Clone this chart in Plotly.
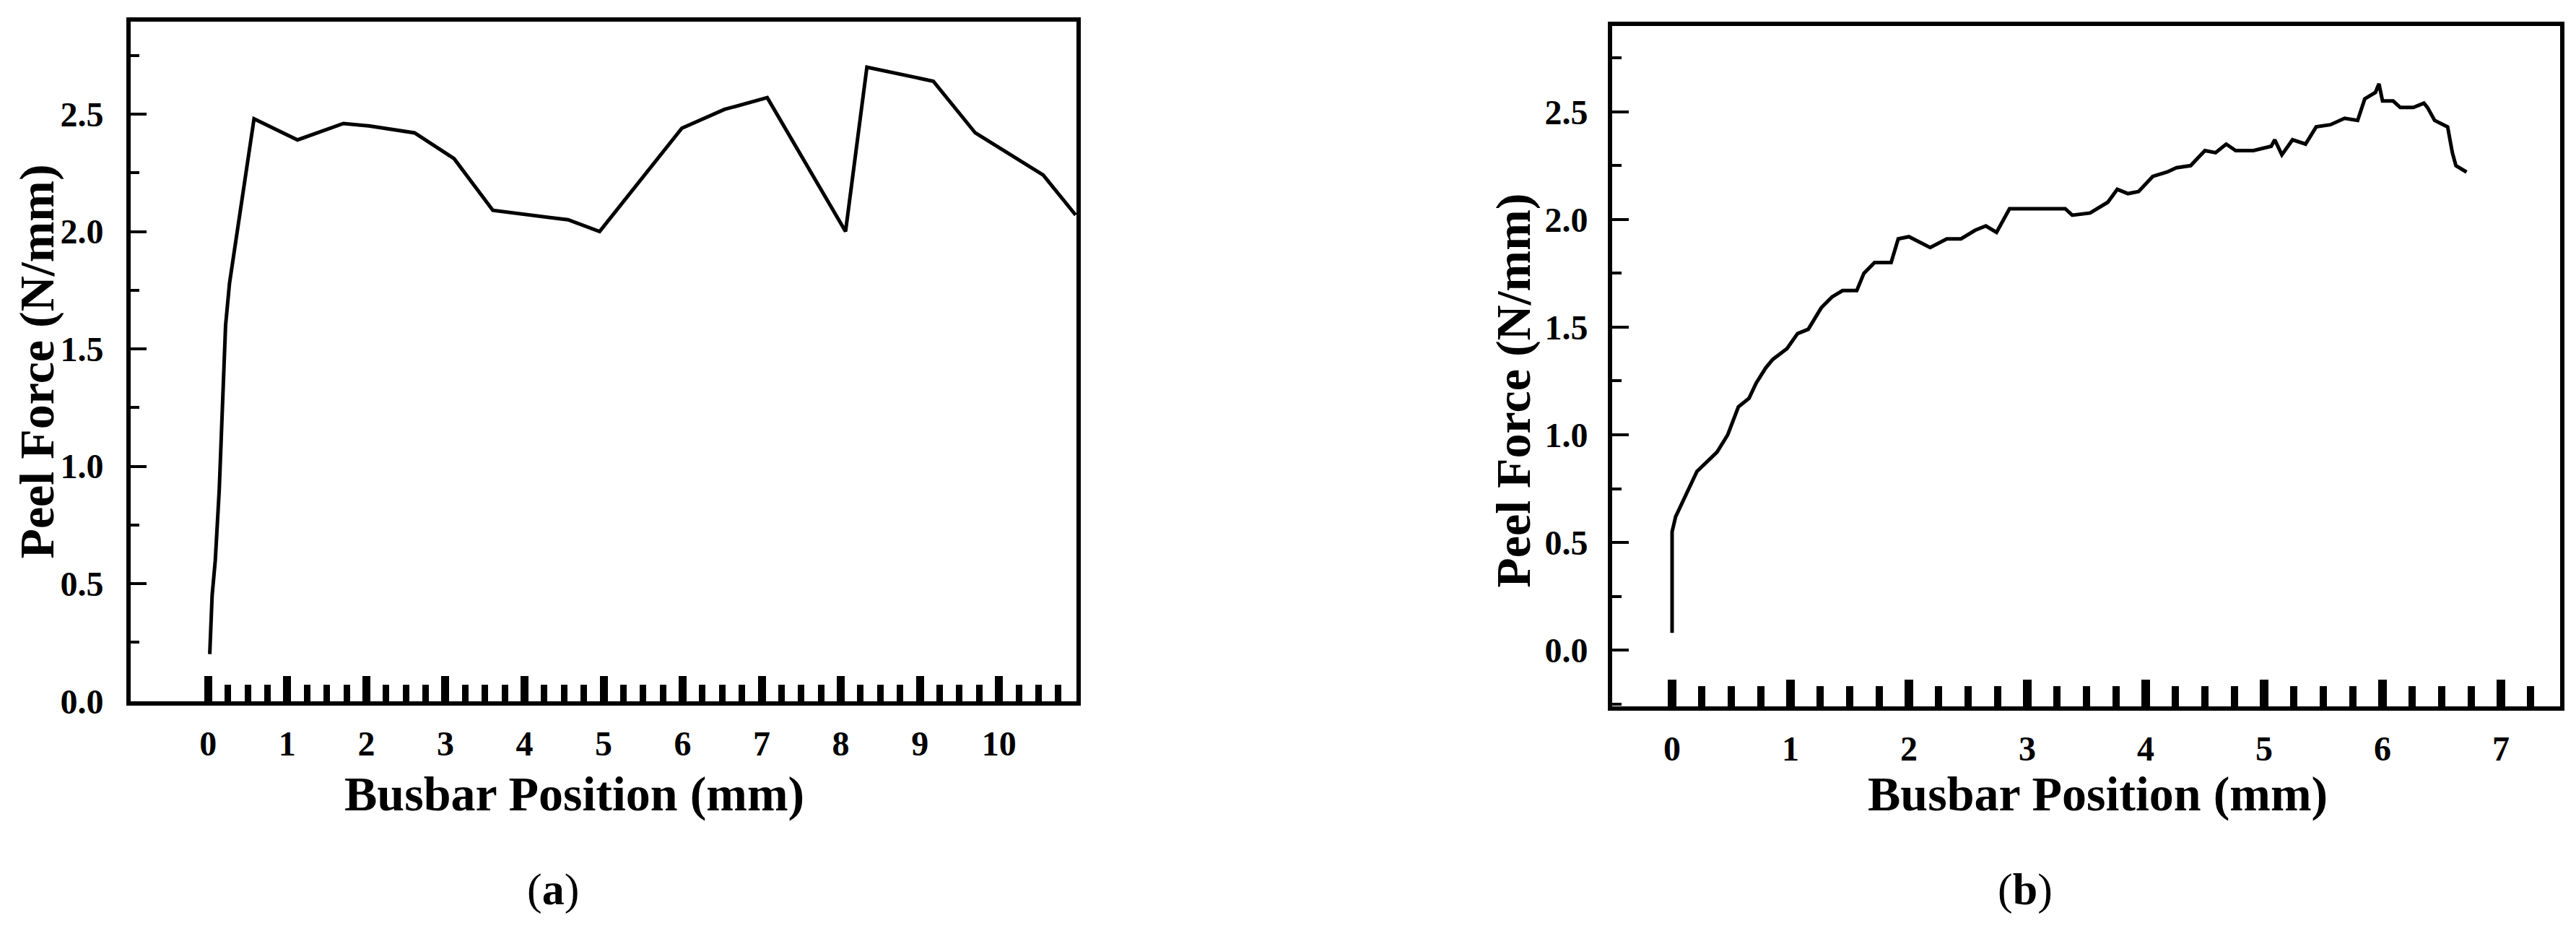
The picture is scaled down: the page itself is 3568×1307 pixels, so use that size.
import plotly.graph_objects as go
from plotly.subplots import make_subplots

# (a) peel force along the busbar
pos_a = [0.02, 0.03, 0.05, 0.09, 0.14, 0.18, 0.22, 0.27, 0.55, 0.58,
         1.13, 1.71, 2.03, 2.61, 3.11, 3.60, 4.55, 4.95, 5.99, 6.53,
         7.07, 8.06, 8.33, 9.17, 9.70, 10.56, 10.97]
force_a = [0.20, 0.27, 0.45, 0.60, 0.90, 1.25, 1.60, 1.78, 2.42, 2.48,
           2.39, 2.46, 2.45, 2.42, 2.31, 2.09, 2.05, 2.00, 2.44, 2.52,
           2.57, 2.00, 2.70, 2.64, 2.42, 2.24, 2.07]

# (b) peel force along the busbar
pos_b = [0.00, 0.00, 0.03, 0.21, 0.38, 0.47, 0.56, 0.65, 0.71, 0.79,
         0.85, 0.97, 1.06, 1.15, 1.26, 1.35, 1.44, 1.56, 1.62, 1.71,
         1.85, 1.91, 2.00, 2.18, 2.32, 2.44, 2.56, 2.65, 2.74, 2.85,
         3.00, 3.32, 3.38, 3.53, 3.68, 3.76, 3.85, 3.94, 4.06, 4.18,
         4.26, 4.38, 4.50, 4.59, 4.68, 4.76, 4.91, 5.06, 5.09, 5.15,
         5.24, 5.35, 5.44, 5.56, 5.68, 5.79, 5.85, 5.94, 5.97, 6.00,
         6.09, 6.15, 6.26, 6.35, 6.38, 6.44, 6.55, 6.59, 6.62, 6.71]
force_b = [0.08, 0.55, 0.62, 0.83, 0.92, 1.00, 1.13, 1.17, 1.24, 1.31,
           1.35, 1.40, 1.47, 1.49, 1.59, 1.64, 1.67, 1.67, 1.75, 1.80,
           1.80, 1.91, 1.92, 1.87, 1.91, 1.91, 1.95, 1.97, 1.94, 2.05,
           2.05, 2.05, 2.02, 2.03, 2.08, 2.14, 2.12, 2.13, 2.20, 2.22,
           2.24, 2.25, 2.32, 2.31, 2.35, 2.32, 2.32, 2.34, 2.37, 2.30,
           2.37, 2.35, 2.43, 2.44, 2.47, 2.46, 2.56, 2.59, 2.63, 2.55,
           2.55, 2.52, 2.52, 2.54, 2.52, 2.46, 2.43, 2.31, 2.25, 2.22]

x_ticks_a = list(range(0, 11))
x_ticks_b = list(range(0, 8))
y_ticks = [0.0, 0.5, 1.0, 1.5, 2.0, 2.5]

W, H = 3568, 1307
SERIF = "Liberation Serif"

fig = make_subplots(rows=1, cols=2)
fig.add_trace(go.Scatter(x=pos_a, y=force_a, mode="lines",
                         line=dict(color="black", width=5)), row=1, col=1)
fig.add_trace(go.Scatter(x=pos_b, y=force_b, mode="lines",
                         line=dict(color="black", width=5)), row=1, col=2)


def frame(**kw):
    d = dict(showgrid=False, zeroline=False, showline=True, linewidth=6,
             linecolor="black", mirror=True, ticks="inside", tickcolor="black",
             tickfont=dict(family=SERIF, size=48, color="black", weight="bold"))
    d.update(kw)
    return d


fig.update_xaxes(**frame(
    domain=[173 / W, 1483 / W], range=[-0.98, 10.98],
    tickmode="array", tickvals=x_ticks_a, ticklen=35, tickwidth=11,
    ticklabelstandoff=12,
    minor=dict(tickmode="array", tickvals=[i / 4 for i in range(1, 44) if i % 4],
               ticks="inside", ticklen=23, tickwidth=9, tickcolor="black"),
), row=1, col=1)
fig.update_yaxes(**frame(
    domain=[1 - 983 / H, 1 - 22 / H], range=[0, 2.895],
    tickmode="array", tickvals=y_ticks, tickformat=".1f",
    ticklen=22, tickwidth=4, ticklabelstandoff=22,
    minor=dict(dtick=0.25, tick0=0, ticks="inside", ticklen=12, tickwidth=4,
               tickcolor="black"),
), row=1, col=1)

fig.update_xaxes(**frame(
    domain=[2225 / W, 3538 / W], range=[-0.506, 7.50],
    tickmode="array", tickvals=x_ticks_b, ticklen=37, tickwidth=12,
    ticklabelstandoff=12,
    minor=dict(tickmode="array", tickvals=[i / 4 for i in range(1, 30) if i % 4],
               ticks="inside", ticklen=28, tickwidth=10, tickcolor="black"),
), row=1, col=2)
fig.update_yaxes(**frame(
    domain=[1 - 990 / H, 1 - 29 / H], range=[-0.2595, 2.897],
    tickmode="array", tickvals=y_ticks, tickformat=".1f",
    ticklen=23, tickwidth=4, ticklabelstandoff=18,
    minor=dict(dtick=0.25, tick0=0, ticks="inside", ticklen=13, tickwidth=4,
               tickcolor="black"),
), row=1, col=2)


def note(text, px, py, size, angle=0, bold=True):
    fig.add_annotation(text=text, x=px / W, y=1 - py / H, xref="paper", yref="paper",
                       showarrow=False, textangle=angle, xanchor="center", yanchor="middle",
                       font=dict(family=SERIF, size=size, color="black",
                                 weight="bold" if bold else "normal"))


note("Peel Force (N/mm)", 43, 503, 68, angle=-90)
note("Peel Force (N/mm)", 2088, 544, 68, angle=-90)
note("Busbar Position (mm)", 787, 1114, 68)
note("Busbar Position (mm)", 2897, 1114, 68)
note("(<b>a</b>)", 758, 1249, 62, bold=False)
note("(<b>b</b>)", 2797, 1249, 62, bold=False)

fig.update_layout(width=W, height=H, margin=dict(l=0, r=0, t=0, b=0),
                  plot_bgcolor="white", paper_bgcolor="white", showlegend=False)
fig.write_html("out.html")
